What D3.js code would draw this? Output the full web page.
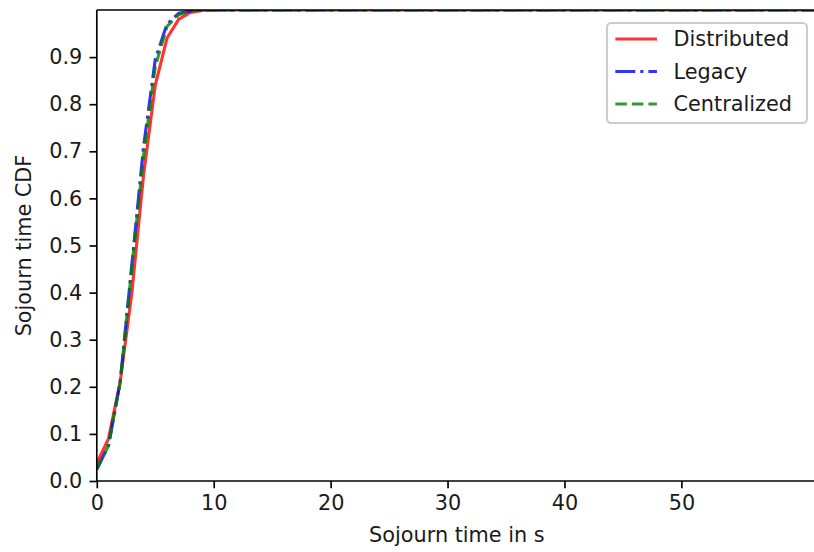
<!DOCTYPE html>
<html>
<head>
<meta charset="utf-8">
<script src="https://cdn.jsdelivr.net/npm/d3@7"></script>
<style>
  html, body { margin: 0; padding: 0; background: #ffffff; overflow: hidden; }
  svg { display: block; }
  text { font-family: "DejaVu Sans", sans-serif; fill: #1a1a1a; }
</style>
</head>
<body>
<script>
// ---- data ----
const sojournTimes = [0, 1, 2, 3, 4, 5, 6, 7, 8, 9, 10, 62];
const distributed  = [0.038, 0.09, 0.21, 0.40, 0.65, 0.84, 0.94, 0.98, 0.995, 0.999, 1, 1];
const legacy       = [0.025, 0.075, 0.21, 0.46, 0.71, 0.895, 0.97, 0.993, 0.998, 1, 1, 1];
const centralized  = [0.025, 0.075, 0.21, 0.455, 0.69, 0.88, 0.965, 0.99, 0.998, 1, 1, 1];
const seriesNames  = ["Distributed", "Legacy", "Centralized"];
const xTicks = [0, 10, 20, 30, 40, 50];
const yTicks = [0.0, 0.1, 0.2, 0.3, 0.4, 0.5, 0.6, 0.7, 0.8, 0.9];
const xLabel = "Sojourn time in s";
const yLabel = "Sojourn time CDF";
const xMax = 61.6;

(function () {
  // ---- styles ----
  const W = 814, H = 552;
  const pt = 2.08;             // px per point
  const fs = 10 * pt;          // font size
  const pLeft = 96.8, pRight = 817, pTop = 10, pBottom = 481;
  const styles = [
    { color: "#ff0000", dash: null },
    { color: "#0000ff", dash: [6.4*1.5*pt, 1.6*1.5*pt, 1*1.5*pt, 1.6*1.5*pt] },
    { color: "#008000", dash: [3.7*1.5*pt, 1.6*1.5*pt] }
  ];
  const lw = 1.5 * pt;

  const svg = d3.select("body").append("svg").attr("width", W).attr("height", H);

  const x = d3.scaleLinear().domain([0, xMax]).range([pLeft, pRight]);
  const y = d3.scaleLinear().domain([0, 1]).range([pBottom, pTop]);

  svg.append("defs").append("clipPath").attr("id", "clip")
    .append("rect").attr("x", pLeft).attr("y", pTop)
    .attr("width", pRight - pLeft).attr("height", pBottom - pTop);

  // lines
  const series = [distributed, legacy, centralized];
  const line = d3.line().x((d, i) => x(sojournTimes[i])).y(d => y(d));
  const g = svg.append("g").attr("clip-path", "url(#clip)");
  series.forEach((vals, k) => {
    g.append("path").datum(vals)
      .attr("d", line)
      .attr("fill", "none")
      .attr("stroke", styles[k].color)
      .attr("stroke-opacity", 0.8)
      .attr("stroke-width", lw)
      .attr("stroke-linejoin", "round")
      .attr("stroke-dasharray", styles[k].dash ? styles[k].dash.join(",") : null);
  });

  // axes
  const tickLen = 3.5 * pt, pad = 3.5 * pt;
  const xAxis = d3.axisBottom(x).tickValues(xTicks).tickFormat(d3.format("d"))
    .tickSizeInner(tickLen).tickSizeOuter(0).tickPadding(pad);
  const yAxis = d3.axisLeft(y).tickValues(yTicks).tickFormat(d3.format(".1f"))
    .tickSizeInner(tickLen).tickSizeOuter(0).tickPadding(pad);

  const gx = svg.append("g").attr("transform", `translate(0,${pBottom})`).call(xAxis);
  const gy = svg.append("g").attr("transform", `translate(${pLeft},0)`).call(yAxis);
  [gx, gy].forEach(a => {
    a.select(".domain").remove();
    a.selectAll(".tick line").attr("stroke", "#000").attr("stroke-width", 0.8 * pt);
    a.selectAll(".tick text").attr("font-size", fs).attr("font-family", "DejaVu Sans").attr("fill", "#1a1a1a");
  });

  // spines
  const sp = svg.append("g").attr("stroke", "#000").attr("stroke-width", 0.8 * pt).attr("fill", "none");
  sp.append("line").attr("x1", pLeft).attr("x2", pRight).attr("y1", pBottom).attr("y2", pBottom);
  sp.append("line").attr("x1", pLeft).attr("x2", pRight).attr("y1", pTop).attr("y2", pTop);
  sp.append("line").attr("x1", pLeft).attr("x2", pLeft).attr("y1", pTop).attr("y2", pBottom);
  sp.append("line").attr("x1", pRight).attr("x2", pRight).attr("y1", pTop).attr("y2", pBottom);

  // axis labels
  svg.append("text").attr("x", (pLeft + pRight) / 2).attr("y", 542)
    .attr("text-anchor", "middle").attr("font-size", fs).text(xLabel);
  svg.append("text")
    .attr("transform", `translate(31,${(pTop + pBottom) / 2}) rotate(-90)`)
    .attr("text-anchor", "middle").attr("font-size", fs).text(yLabel);

  // legend
  const lgX = 607, lgY = 23, lgW = 200, lgH = 100;
  const lg = svg.append("g");
  lg.append("rect").attr("x", lgX).attr("y", lgY).attr("width", lgW).attr("height", lgH)
    .attr("rx", 0.2 * fs).attr("fill", "#ffffff").attr("fill-opacity", 0.8)
    .attr("stroke", "#cccccc").attr("stroke-width", 1 * pt);
  const rowY = [39, 71.5, 104];
  seriesNames.forEach((name, k) => {
    lg.append("line")
      .attr("x1", lgX + 0.4 * fs).attr("x2", lgX + 0.4 * fs + 2.0 * fs)
      .attr("y1", rowY[k]).attr("y2", rowY[k])
      .attr("stroke", styles[k].color).attr("stroke-opacity", 0.8)
      .attr("stroke-width", lw)
      .attr("stroke-dasharray", styles[k].dash ? styles[k].dash.join(",") : null);
    lg.append("text")
      .attr("x", lgX + 0.4 * fs + 2.0 * fs + 0.8 * fs)
      .attr("y", rowY[k]).attr("dy", "0.35em")
      .attr("font-size", fs).text(name);
  });
})();
</script>
</body>
</html>
